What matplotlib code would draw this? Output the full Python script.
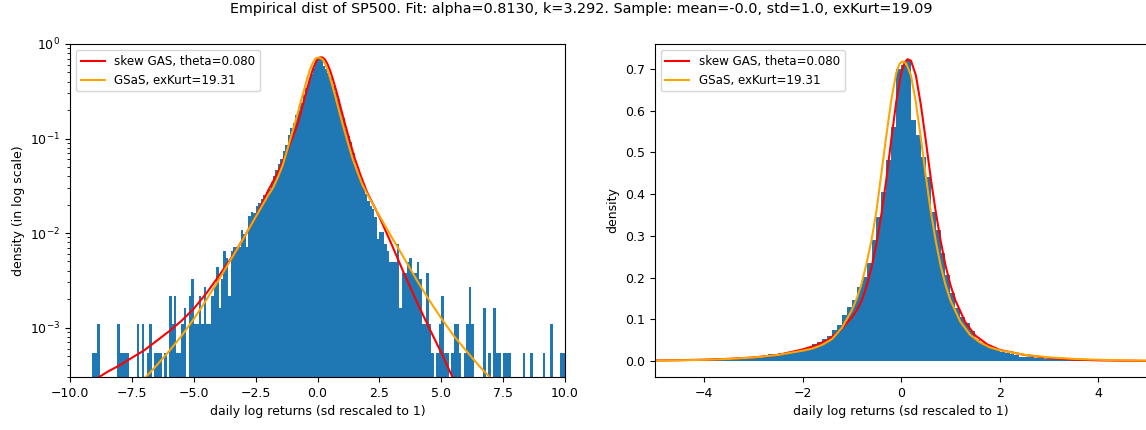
import numpy as np
import matplotlib.pyplot as plt

plt.rcParams['font.size'] = 9

# histogram: counts per 0.1-wide bin, left edges from -9.2 to 9.9
bin_start = -9.2
bin_w = 0.1
n_obs = 18420
counts = [
    0, 1, 1, 2, 0, 0, 0, 0, 0, 0,
    0, 2, 1, 1, 1, 1, 0, 0, 0, 2,
    0, 2, 0, 1, 2, 0, 1, 1, 1, 0,
    1, 0, 4, 2, 4, 1, 1, 2, 3, 0,
    4, 6, 2, 2, 4, 2, 5, 2, 2, 4,
    5, 8, 3, 6, 12, 10, 4, 12, 13, 13,
    13, 20, 18, 13, 28, 31, 30, 36, 38, 42,
    46, 50, 54, 64, 74, 86, 98, 112, 136, 158,
    203, 240, 269, 328, 372, 433, 534, 636, 748, 888,
    1032, 1290, 1308, 1330, 1065, 998, 903, 814, 659, 578,
    477, 379, 300, 234, 195, 168, 131, 92, 81, 68,
    57, 48, 40, 36, 33, 27, 16, 19, 19, 14,
    12, 9, 9, 9, 14, 3, 7, 7, 9, 10,
    7, 7, 9, 6, 2, 2, 7, 2, 1, 0,
    1, 2, 4, 1, 1, 0, 1, 2, 2, 1,
    0, 1, 2, 5, 2, 0, 0, 0, 0, 3,
    0, 1, 0, 3, 1, 1, 0, 1, 1, 1,
    0, 0, 0, 0, 0, 1, 0, 0, 1, 0,
    0, 0, 0, 1, 0, 0, 2, 0, 0, 0,
    1, 1,
]

# fitted densities
gas_x = [-9.0, -8.5, -8.0, -7.5, -7.0, -6.5, -6.0, -5.5, -5.0, -4.5, -4.0,
         -3.5, -3.0, -2.5, -2.0, -1.75, -1.5, -1.25, -1.0, -0.9, -0.8, -0.7,
         -0.6, -0.5, -0.4, -0.3, -0.2, -0.1, 0.0, 0.07, 0.13, 0.2, 0.3, 0.4,
         0.5, 0.6, 0.7, 0.8, 0.9, 1.0, 1.1, 1.3, 1.5, 1.75, 2.0, 2.5, 3.0,
         3.5, 4.0, 4.5, 5.0, 5.5, 5.7]
gas_y = [2.8e-4, 3.39e-4, 3.98e-4, 4.79e-4, 5.75e-4, 7.24e-4, 9.12e-4,
         1.175e-3, 1.585e-3, 2.29e-3, 3.47e-3, 5.37e-3, 8.71e-3, 0.0148,
         0.028, 0.037, 0.050, 0.072, 0.105, 0.122, 0.145, 0.18, 0.225,
         0.282, 0.352, 0.435, 0.53, 0.62, 0.69, 0.715, 0.7235, 0.72, 0.685,
         0.615, 0.53, 0.44, 0.36, 0.29, 0.23, 0.183, 0.146, 0.094, 0.062,
         0.040, 0.027, 0.0148, 0.0075, 0.0037, 0.0019, 0.0010, 5.4e-4,
         2.8e-4, 2.2e-4]

gsas_x = [-7.2, -7.0, -6.5, -6.0, -5.5, -5.0, -4.5, -4.0, -3.5, -3.0, -2.5,
          -2.0, -1.8, -1.6, -1.4, -1.2, -1.0, -0.9, -0.8, -0.7, -0.6, -0.5,
          -0.4, -0.3, -0.2, -0.1, -0.03, 0.03, 0.1, 0.2, 0.3, 0.4, 0.5, 0.6,
          0.7, 0.8, 0.9, 1.0, 1.2, 1.4, 1.6, 1.8, 2.0, 2.5, 3.0, 3.5, 4.0,
          4.5, 5.0, 5.5, 6.0, 6.5, 7.0, 7.2]
gsas_y = [2.5e-4, 2.88e-4, 3.98e-4, 5.62e-4, 8.13e-4, 1.23e-3, 1.95e-3,
          3.16e-3, 5.25e-3, 8.71e-3, 0.0148, 0.025, 0.030, 0.039, 0.053,
          0.080, 0.122, 0.150, 0.186, 0.235, 0.29, 0.36, 0.45, 0.54, 0.625,
          0.69, 0.713, 0.718, 0.714, 0.685, 0.62, 0.535, 0.445, 0.36, 0.29,
          0.23, 0.183, 0.146, 0.095, 0.063, 0.045, 0.033, 0.026, 0.0152,
          0.0090, 0.0054, 0.0032, 0.00197, 0.00125, 0.00082, 0.00057,
          0.00040, 0.00029, 0.00025]

gas_label = 'skew GAS, theta=0.080'
gsas_label = 'GSaS, exKurt=19.31'
title = ('Empirical dist of SP500. Fit: alpha=0.8130, k=3.292. '
         'Sample: mean=-0.0, std=1.0, exKurt=19.09')
xlabel = 'daily log returns (sd rescaled to 1)'

edges = bin_start + bin_w * np.arange(len(counts) + 1)
centers = edges[:-1] + bin_w / 2
dens = np.array(counts) / (n_obs * bin_w)

fig = plt.figure(figsize=(11.46, 4.3), dpi=100)
ax1 = fig.add_axes([0.0611, 0.1233, 0.4320, 0.7744])
ax2 = fig.add_axes([0.5713, 0.1233, 0.4300, 0.7744])

for ax in (ax1, ax2):
    ax.hist(centers, bins=edges, weights=dens, color='C0')
    ax.plot(gas_x, gas_y, color='red', lw=1.5, label=gas_label)
    ax.plot(gsas_x, gsas_y, color='orange', lw=1.5, label=gsas_label)
    ax.legend(loc='upper left', fontsize=8.6)
    ax.set_xlabel(xlabel)

ax1.set_yscale('log')
ax1.set_xlim(-10, 10)
ax1.set_ylim(3e-4, 1)
ax1.set_ylabel('density (in log scale)')

ax2.set_xlim(-5, 5)
ax2.set_ylim(-0.038, 0.76)
ax2.set_ylabel('density')

fig.suptitle(title, x=0.507, y=0.995, fontsize=10.4)
fig.savefig('out.png', dpi=100)
